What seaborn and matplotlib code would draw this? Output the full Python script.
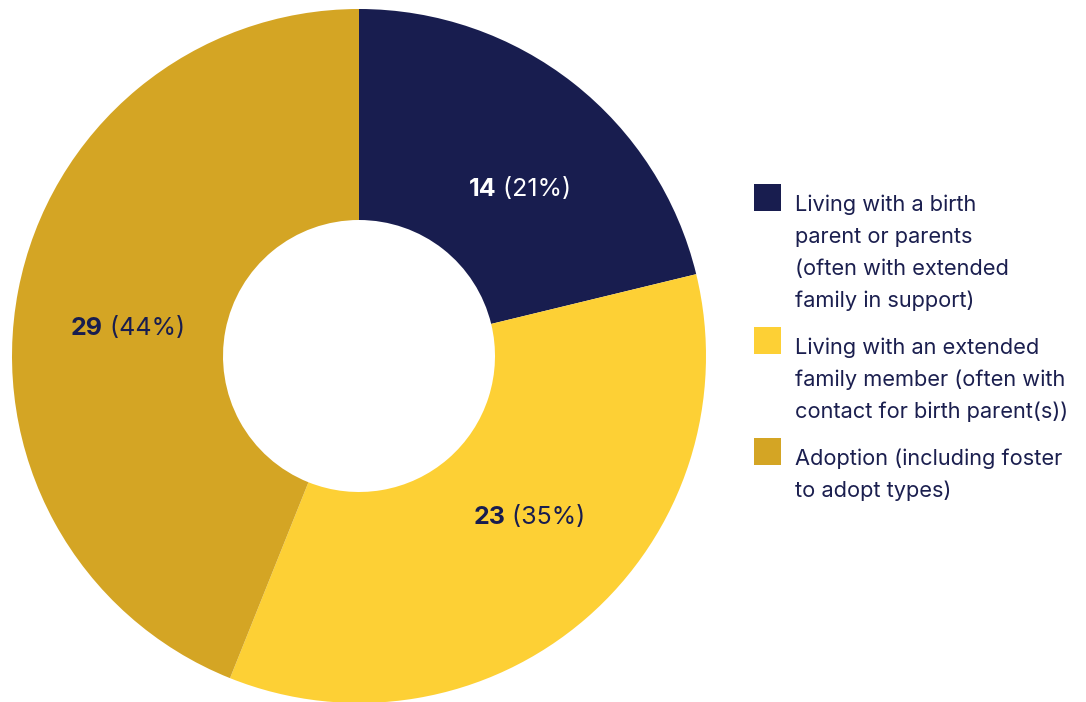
import matplotlib
matplotlib.use("Agg")
import matplotlib.pyplot as plt
import matplotlib.transforms as mtransforms
from matplotlib.patches import Rectangle
import numpy as np
import seaborn as sns

# Data
categories = [
    "Living with a birth\nparent or parents\n(often with extended\nfamily in support)",
    "Living with an extended\nfamily member (often with\ncontact for birth parent(s))",
    "Adoption (including foster\nto adopt types)",
]
counts = [14, 23, 29]
colors = ["#181D4F", "#FDD035", "#D4A524"]
label_colors = ["#FFFFFF", "#181D4F", "#181D4F"]
label_nudge_deg = [-5.5, 6.0, 3.5]

TEXT = "#1B1F4F"
FONT = "Inter"

sns.set_theme(style="white")
plt.rcParams["font.family"] = [FONT, "DejaVu Sans"]

W, H = 1086, 702
fig = plt.figure(figsize=(W / 100, H / 100), dpi=100)
fig.patch.set_facecolor("white")

# donut axes: centre (359, 356) px, radius 347 px
cx, cy, R = 359, 356, 347
ax = fig.add_axes([(cx - R) / W, (H - cy - R) / H, 2 * R / W, 2 * R / H])
wedges, _ = ax.pie(
    counts,
    colors=colors,
    startangle=90,
    counterclock=False,
    radius=1.0,
    wedgeprops=dict(width=1 - 136 / 347, linewidth=0),
)
ax.set_xlim(-1, 1)
ax.set_ylim(-1, 1)
ax.set_aspect("equal")
ax.axis("off")

fig.canvas.draw()
renderer = fig.canvas.get_renderer()

total = sum(counts)
for w, n, col, nudge in zip(wedges, counts, label_colors, label_nudge_deg):
    mid = np.deg2rad((w.theta1 + w.theta2) / 2 + nudge)
    r = 0.672
    x, y = r * np.cos(mid), r * np.sin(mid) - 0.006
    pct = f" ({round(100 * n / total)}%)"
    t1 = ax.text(x, y, str(n), color=col, fontsize=18, fontweight="bold",
                 ha="left", va="center", family=[FONT, "DejaVu Sans"])
    t2 = ax.text(x, y, pct, color=col, fontsize=18, ha="left", va="center",
                 family=[FONT, "DejaVu Sans"])
    w1 = t1.get_window_extent(renderer).width
    w2 = t2.get_window_extent(renderer).width
    tot = w1 + w2
    t1.set_transform(ax.transData + mtransforms.ScaledTranslation(-tot / 2 / 100, 0, fig.dpi_scale_trans))
    t2.set_transform(ax.transData + mtransforms.ScaledTranslation((-tot / 2 + w1) / 100, 0, fig.dpi_scale_trans))

# legend drawn as squares with wrapped labels
sq_x, sq = 754, 27
text_x = 795
line_h, entry_gap = 32, 15
baseline = 211
for cat, col in zip(categories, colors):
    lines = cat.split("\n")
    fig.patches.append(Rectangle((sq_x / W, (H - baseline) / H), sq / W, sq / H,
                                 transform=fig.transFigure, facecolor=col,
                                 edgecolor="none", figure=fig))
    for i, ln in enumerate(lines):
        fig.text(text_x / W, (H - (baseline + i * line_h)) / H, ln, color=TEXT,
                 fontsize=15.7, ha="left", va="baseline")
    baseline += len(lines) * line_h + entry_gap

fig.savefig("out.png", dpi=100, facecolor="white")
